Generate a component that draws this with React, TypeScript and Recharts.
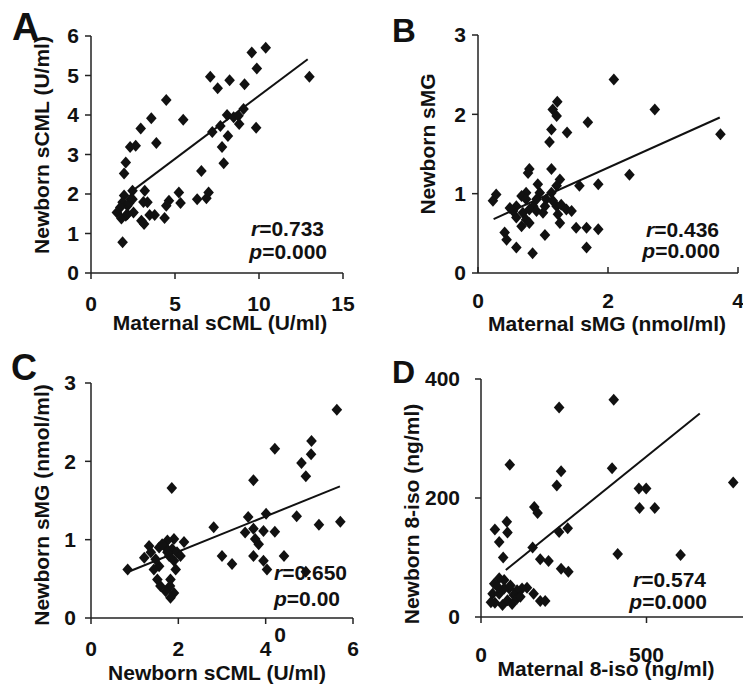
import React from 'react';
import { ScatterChart, Scatter, XAxis, YAxis, ReferenceLine } from 'recharts';

const FONT = '"Liberation Sans", Arial, Helvetica, sans-serif';
const INK = '#111';

// A: maternal vs newborn sCML (U/ml)
const aMaternal = [13.0, 10.4, 9.57, 9.87, 7.1, 7.54, 8.25, 9.14, 4.48, 3.59, 5.49, 2.96, 3.89, 2.66, 2.33, 2.07, 1.97, 7.22, 7.7, 8.1, 8.49, 8.78, 9.08, 8.82, 9.83, 7.8, 8.15, 7.9, 6.57, 7.0, 6.87, 6.32, 5.23, 5.33, 4.64, 4.48, 4.38, 3.79, 3.49, 3.36, 3.2, 3.12, 3.16, 3.0, 2.47, 2.37, 2.53, 2.17, 1.97, 1.88, 2.07, 1.74, 1.54, 1.81, 1.88, 2.27, 2.47, 2.17];
const aNewborn = [4.97, 5.7, 5.58, 5.18, 4.97, 4.68, 4.88, 4.78, 4.38, 3.92, 3.88, 3.66, 3.29, 3.22, 3.19, 2.8, 2.52, 3.57, 3.72, 4.0, 3.94, 3.98, 4.15, 3.77, 3.68, 3.19, 3.47, 2.78, 2.58, 2.04, 1.89, 1.87, 2.04, 1.77, 1.83, 1.7, 1.39, 1.47, 1.47, 1.79, 2.08, 1.8, 1.24, 1.32, 2.08, 1.87, 1.53, 1.7, 1.96, 1.79, 1.45, 1.66, 1.53, 1.38, 0.78, 1.77, 1.87, 1.49];
const aFit = [{ x: 2.4, y: 2.06 }, { x: 12.9, y: 5.41 }];

// B: maternal vs newborn sMG (nmol/ml)
const bMaternal = [2.09, 2.72, 3.73, 2.33, 1.85, 1.85, 1.67, 1.67, 1.51, 1.56, 1.69, 1.37, 1.22, 1.15, 1.21, 1.13, 1.1, 1.13, 1.26, 1.21, 1.13, 1.05, 1.15, 1.21, 1.28, 1.36, 1.44, 1.23, 1.26, 1.03, 1.0, 0.95, 0.92, 0.79, 0.77, 0.74, 0.67, 0.74, 0.85, 0.79, 0.9, 0.69, 0.59, 0.54, 0.49, 0.59, 0.74, 0.79, 0.67, 0.41, 0.44, 0.59, 0.84, 0.23, 0.28, 0.9, 1.03];
const bNewborn = [2.44, 2.06, 1.75, 1.24, 1.12, 0.55, 0.57, 0.32, 0.57, 1.1, 1.9, 1.77, 2.16, 2.06, 1.98, 1.81, 1.65, 1.31, 1.18, 1.1, 1.01, 0.93, 0.91, 0.84, 0.86, 0.8, 0.78, 0.74, 0.63, 0.48, 0.76, 1.01, 1.12, 1.31, 1.26, 1.01, 0.97, 0.93, 0.84, 0.8, 0.78, 0.76, 0.84, 0.78, 0.82, 0.7, 0.67, 0.63, 0.59, 0.51, 0.42, 0.32, 0.25, 0.91, 0.99, 0.93, 0.84];
const bFit = [{ x: 0.24, y: 0.68 }, { x: 3.72, y: 1.96 }];

// C: newborn sCML (U/ml) vs newborn sMG (nmol/ml)
const cCml = [5.63, 5.71, 5.22, 5.05, 5.04, 4.82, 4.92, 4.71, 4.92, 4.21, 4.21, 4.42, 3.72, 3.6, 3.53, 3.72, 3.95, 4.01, 3.76, 3.84, 3.72, 3.95, 4.03, 2.81, 3.0, 3.23, 1.85, 2.13, 1.9, 1.75, 1.71, 1.86, 1.97, 1.79, 1.9, 1.94, 1.82, 1.81, 1.9, 1.82, 1.71, 1.59, 1.52, 1.56, 1.44, 1.48, 1.37, 1.56, 1.33, 1.22, 1.63, 2.05, 0.84, 1.75];
const cSmg = [2.66, 1.23, 1.19, 2.26, 2.09, 1.98, 1.81, 1.3, 0.59, 2.16, 1.1, 0.79, 1.76, 1.29, 1.09, 1.14, 1.11, 1.33, 1.01, 0.94, 0.79, 0.73, 0.62, 1.16, 0.79, 0.69, 1.66, 0.97, 1.01, 0.99, 0.9, 0.88, 0.84, 0.79, 0.73, 0.62, 0.49, 0.41, 0.32, 0.26, 0.34, 0.41, 0.49, 0.66, 0.62, 0.75, 0.84, 0.9, 0.92, 0.77, 0.94, 0.79, 0.62, 0.84];
const cFit = [{ x: 0.9, y: 0.6 }, { x: 5.7, y: 1.68 }];

// D: maternal vs newborn 8-iso (ng/ml)
const dMaternal = [401, 236, 87, 396, 242, 229, 762, 477, 499, 479, 525, 161, 171, 236, 262, 156, 179, 204, 242, 264, 413, 603, 78, 42, 80, 55, 67, 159, 179, 194, 139, 124, 109, 99, 85, 70, 55, 40, 35, 42, 65, 80, 94, 109, 55, 70, 30, 50, 89, 119];
const dNewborn = [365, 352, 256, 250, 245, 221, 226, 216, 216, 183, 183, 185, 175, 143, 149, 117, 97, 94, 81, 76, 106, 104, 160, 147, 142, 126, 100, 39, 27, 27, 49, 48, 45, 37, 48, 62, 65, 56, 39, 24, 20, 28, 22, 31, 39, 48, 25, 51, 53, 34];
const dFit = [{ x: 75, y: 79 }, { x: 661, y: 342 }];

const pairs = (xs: number[], ys: number[]) => xs.map((x, i) => ({ x, y: ys[i] }));

const Diamond = (props: any) => {
  const { cx, cy } = props;
  if (cx == null || cy == null) return null;
  return <path d={`M${cx},${cy - 6}L${cx + 5.3},${cy}L${cx},${cy + 6}L${cx - 5.3},${cy}Z`} fill={INK} />;
};

const tickStyle = { fill: INK, fontSize: 21, fontWeight: 700, fontFamily: FONT };
const axisStyle = { stroke: '#222', strokeWidth: 1.5 };

type PanelProps = {
  left: number;
  top: number;
  width: number;
  height: number;
  margin: { top: number; right: number; bottom: number; left: number };
  yWidth: number;
  xHeight: number;
  xDomain: [number, number];
  xTicks: number[];
  yDomain: [number, number];
  yTicks: number[];
  points: { x: number; y: number }[];
  fit: { x: number; y: number }[];
  xTickSize?: number;
  xTickMargin: number;
  yTickMargin: number;
};

function Panel(p: PanelProps) {
  return (
    <div style={{ position: 'absolute', left: p.left, top: p.top }}>
      <ScatterChart width={p.width} height={p.height} margin={p.margin}>
        <XAxis
          type="number"
          dataKey="x"
          domain={p.xDomain}
          ticks={p.xTicks}
          interval={0}
          height={p.xHeight}
          tick={tickStyle}
          tickSize={p.xTickSize ?? 6}
          tickMargin={p.xTickMargin}
          axisLine={axisStyle}
          tickLine={axisStyle}
        />
        <YAxis
          type="number"
          dataKey="y"
          domain={p.yDomain}
          ticks={p.yTicks}
          interval={0}
          width={p.yWidth}
          tick={tickStyle}
          tickSize={6}
          tickMargin={p.yTickMargin}
          axisLine={axisStyle}
          tickLine={axisStyle}
        />
        <ReferenceLine segment={p.fit} stroke={INK} strokeWidth={2} ifOverflow="visible" />
        <Scatter data={p.points} shape={Diamond} isAnimationActive={false} />
      </ScatterChart>
    </div>
  );
}

export default function App() {
  const titleProps = { fontFamily: FONT, fontWeight: 700, fontSize: 21, fill: INK };
  const statProps = { fontFamily: FONT, fontWeight: 700, fontSize: 21, fill: INK, textAnchor: 'end' as const };
  return (
    <div style={{ position: 'absolute', left: 0, top: 0, width: 743, height: 684, overflow: 'hidden', background: '#fff' }}>
      <Panel
        left={0} top={0} width={370} height={340}
        margin={{ top: 36, right: 27, bottom: 0, left: 0 }}
        yWidth={91} xHeight={67}
        xDomain={[0, 15]} xTicks={[0, 5, 10, 15]}
        yDomain={[0, 6]} yTicks={[0, 1, 2, 3, 4, 5, 6]}
        points={pairs(aMaternal, aNewborn)} fit={aFit}
        xTickMargin={17} yTickMargin={6}
      />
      <Panel
        left={370} top={0} width={373} height={340}
        margin={{ top: 35, right: 5, bottom: 0, left: 0 }}
        yWidth={108} xHeight={67}
        xDomain={[0, 4]} xTicks={[0, 2, 4]}
        yDomain={[0, 3]} yTicks={[0, 1, 2, 3]}
        points={pairs(bMaternal, bNewborn)} fit={bFit}
        xTickSize={-6} xTickMargin={26} yTickMargin={6}
      />
      <Panel
        left={0} top={340} width={370} height={344}
        margin={{ top: 43, right: 17, bottom: 0, left: 0 }}
        yWidth={91} xHeight={66}
        xDomain={[0, 6]} xTicks={[0, 2, 4, 6]}
        yDomain={[0, 3]} yTicks={[0, 1, 2, 3]}
        points={pairs(cCml, cSmg)} fit={cFit}
        xTickMargin={17} yTickMargin={9}
      />
      <Panel
        left={370} top={340} width={447} height={344}
        margin={{ top: 39, right: 5, bottom: 0, left: 0 }}
        yWidth={111} xHeight={67}
        xDomain={[0, 1000]} xTicks={[0, 500]}
        yDomain={[0, 400]} yTicks={[0, 200, 400]}
        points={pairs(dMaternal, dNewborn)} fit={dFit}
        xTickMargin={24} yTickMargin={15}
      />
      <svg width={743} height={684} style={{ position: 'absolute', left: 0, top: 0, pointerEvents: 'none' }}>
        <g fontFamily={FONT} fontWeight={700} fill={INK}>
          <text x={12} y={40} fontSize={38}>A</text>
          <text x={392} y={42} fontSize={33}>B</text>
          <text x={11} y={380} fontSize={36}>C</text>
          <text x={392} y={383} fontSize={32}>D</text>
        </g>

        <text {...titleProps} x={220} y={330} textAnchor="middle">Maternal sCML (U/ml)</text>
        <text {...titleProps} textAnchor="middle" transform="translate(49,145) rotate(-90)">Newborn sCML (U/ml)</text>
        <text {...titleProps} x={607} y={331} textAnchor="middle">Maternal sMG (nmol/ml)</text>
        <text {...titleProps} textAnchor="middle" transform="translate(435,144) rotate(-90)">Newborn sMG</text>
        <text {...titleProps} x={217} y={680} textAnchor="middle">Newborn sCML (U/ml)</text>
        <text {...titleProps} textAnchor="middle" transform="translate(49,505) rotate(-90)">Newborn sMG (nmol/ml)</text>
        <text {...titleProps} x={606} y={676} textAnchor="middle">Maternal 8-iso (ng/ml)</text>
        <text {...titleProps} textAnchor="middle" transform="translate(419,514) rotate(-90)">Newborn 8-iso (ng/ml)</text>

        <text {...statProps} x={324} y={236}><tspan fontStyle="italic">r</tspan>=0.733</text>
        <text {...statProps} x={327} y={259}><tspan fontStyle="italic">p</tspan>=0.000</text>
        <text {...statProps} x={719} y={237}><tspan fontStyle="italic">r</tspan>=0.436</text>
        <text {...statProps} x={720} y={258}><tspan fontStyle="italic">p</tspan>=0.000</text>
        <text {...statProps} x={347} y={580}><tspan fontStyle="italic">r</tspan>=0.650</text>
        <text {...statProps} x={340} y={606}><tspan fontStyle="italic">p</tspan>=0.00</text>
        <text {...statProps} x={280} y={642} textAnchor="middle">0</text>
        <text {...statProps} x={706} y={587}><tspan fontStyle="italic">r</tspan>=0.574</text>
        <text {...statProps} x={707} y={609}><tspan fontStyle="italic">p</tspan>=0.000</text>
      </svg>
    </div>
  );
}
